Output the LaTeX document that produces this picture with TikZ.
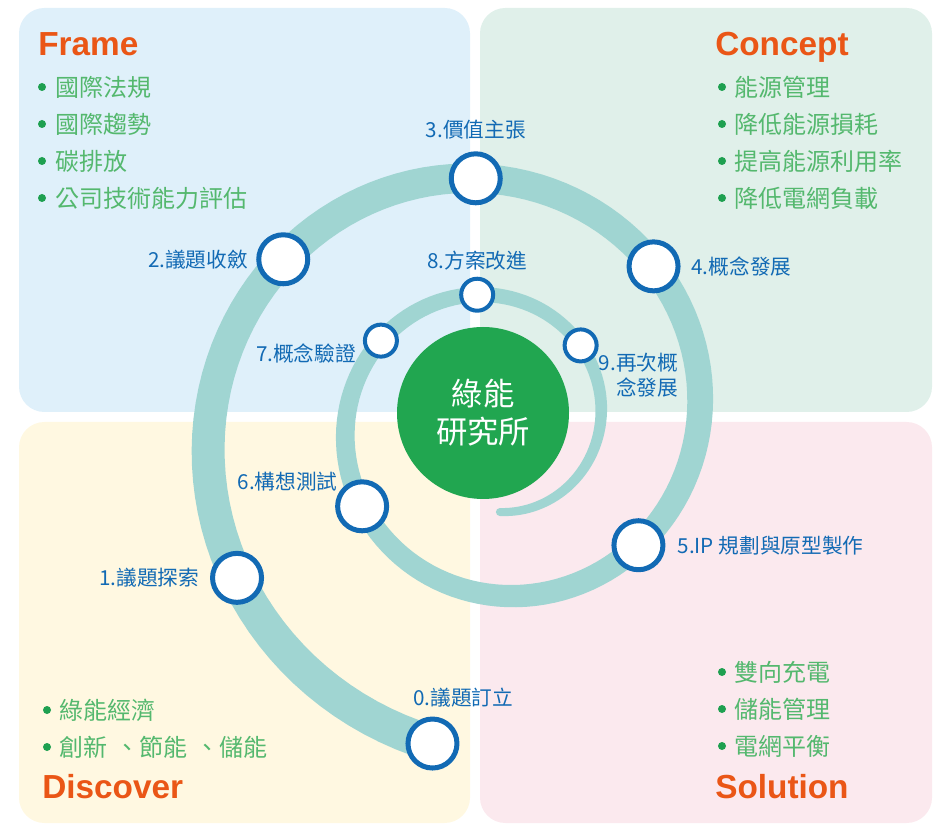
\documentclass[tikz,border=0pt]{standalone}
\usepackage{fontspec}
\setmainfont{Liberation Sans}
\newfontfamily\cjk{Noto Sans CJK TC}
\usetikzlibrary{positioning}

\definecolor{framebg}{RGB}{223,240,250}
\definecolor{conceptbg}{RGB}{224,240,234}
\definecolor{discoverbg}{RGB}{255,248,225}
\definecolor{solutionbg}{RGB}{251,233,238}
\definecolor{bandteal}{RGB}{160,213,210}
\definecolor{hubgreen}{RGB}{33,166,80}
\definecolor{stepblue}{RGB}{18,106,180}
\definecolor{itemgreen}{RGB}{84,184,110}
\definecolor{dotgreen}{RGB}{30,160,80}
\definecolor{headorange}{RGB}{234,86,22}

\begin{document}
\begin{tikzpicture}[x=.75pt,y=.75pt,
  declare function={sprad(\q)=205.1*exp(0.00181*\q); spwid(\q)=8+0.039688*(\q+446.3);},
  heading/.style={anchor=base west,inner sep=0pt,font=\fontsize{25}{25}\selectfont\bfseries,text=headorange},
  item/.style={anchor=west,inner sep=0pt,font=\cjk\fontsize{18}{18}\selectfont,text=itemgreen},
  bigstep/.style={circle,draw=stepblue,fill=white,line width=3.75pt,minimum size=36.75pt,inner sep=0pt},
  smallstep/.style={circle,draw=stepblue,fill=white,line width=3pt,minimum size=24pt,inner sep=0pt},
  steplabel/.style={inner sep=1pt,font=\cjk\fontsize{15.5}{19}\selectfont,text=stepblue},
  hub/.style={circle,fill=hubgreen,minimum size=129pt,inner sep=0pt,align=center,text=white,
    font=\cjk\fontsize{23.5}{28.5}\selectfont}]
  \useasboundingbox (0,0) rectangle (937,824);

  % four quadrants
  \fill[framebg,rounded corners=19pt] (19,412) rectangle (470,816);
  \fill[conceptbg,rounded corners=19pt] (480,412) rectangle (932,816);
  \fill[discoverbg,rounded corners=19pt] (19,1) rectangle (470,402);
  \fill[solutionbg,rounded corners=19pt] (480,1) rectangle (932,402);

  % spiral band and the steps on it
  \begin{scope}[shift={(494,403)}]
    \fill[bandteal] plot[domain=259.2:-446.3,samples=240] (\x:{sprad(\x)+spwid(\x)/2})
      -- plot[domain=-446.3:259.2,samples=240] (\x:{sprad(\x)-spwid(\x)/2}) -- cycle;
    \fill[bandteal] (-446.3:{sprad(-446.3)}) circle[radius=4];
    \node[hub] (hub) at (-11,8) {綠能\\研究所};
    \foreach \a/\n in {259.2/0,211.4/1,142.5/2,94.3/3,44.1/4,-40.7/5,-147.1/6}
      \node[bigstep] (s\n) at (\a:{sprad(\a)}) {};
    \foreach \a/\n in {-215.4/7,-262.4/8,-318.9/9}
      \node[smallstep] (s\n) at (\a:{sprad(\a)}) {};
  \end{scope}

  \node[steplabel,above=6pt of s0,xshift=23pt] (l0) {0.議題訂立};
  \node[steplabel,left=7pt of s1] (l1) {1.議題探索};
  \node[steplabel,left=5pt of s2] (l2) {2.議題收斂};
  \node[steplabel,above=8pt of s3] (l3) {3.價值主張};
  \node[steplabel,right=7pt of s4] (l4) {4.概念發展};
  \node[steplabel,right=8pt of s5] (l5) {5.IP 規劃與原型製作};
  \node[steplabel,above left=-4pt and 3pt of s6] (l6) {6.構想測試};
  \node[steplabel,left=4pt of s7,yshift=-10pt] (l7) {7.概念驗證};
  \node[steplabel,above=4pt of s8] (l8) {8.方案改進};
  \node[steplabel,align=right,below right=-5pt and 3pt of s9] (l9) {9.再次概\\念發展};

  % quadrant titles and lists
  \node[heading] (frame) at (38,768) {Frame};
  \foreach \txt [count=\i] in {國際法規,國際趨勢,碳排放,公司技術能力評估} {
    \node[item] (fr\i) at (55,774-37*\i) {\txt};
    \fill[dotgreen] (fr\i.west) ++(-13,0) circle[radius=4];
  }
  \node[heading] (concept) at (715,768) {Concept};
  \foreach \txt [count=\i] in {能源管理,降低能源損耗,提高能源利用率,降低電網負載} {
    \node[item] (co\i) at (734,774-37*\i) {\txt};
    \fill[dotgreen] (co\i.west) ++(-12,0) circle[radius=4];
  }
  \foreach \txt [count=\i] in {綠能經濟,創新\hspace{.33em}、節能\hspace{.33em}、儲能} {
    \node[item] (di\i) at (59,151-37*\i) {\txt};
    \fill[dotgreen] (di\i.west) ++(-12,0) circle[radius=4];
  }
  \node[heading] (discover) at (42,26) {Discover};
  \foreach \txt [count=\i] in {雙向充電,儲能管理,電網平衡} {
    \node[item] (so\i) at (734,189-37*\i) {\txt};
    \fill[dotgreen] (so\i.west) ++(-12,0) circle[radius=4];
  }
  \node[heading] (solution) at (715,26) {Solution};
\end{tikzpicture}
\end{document}
